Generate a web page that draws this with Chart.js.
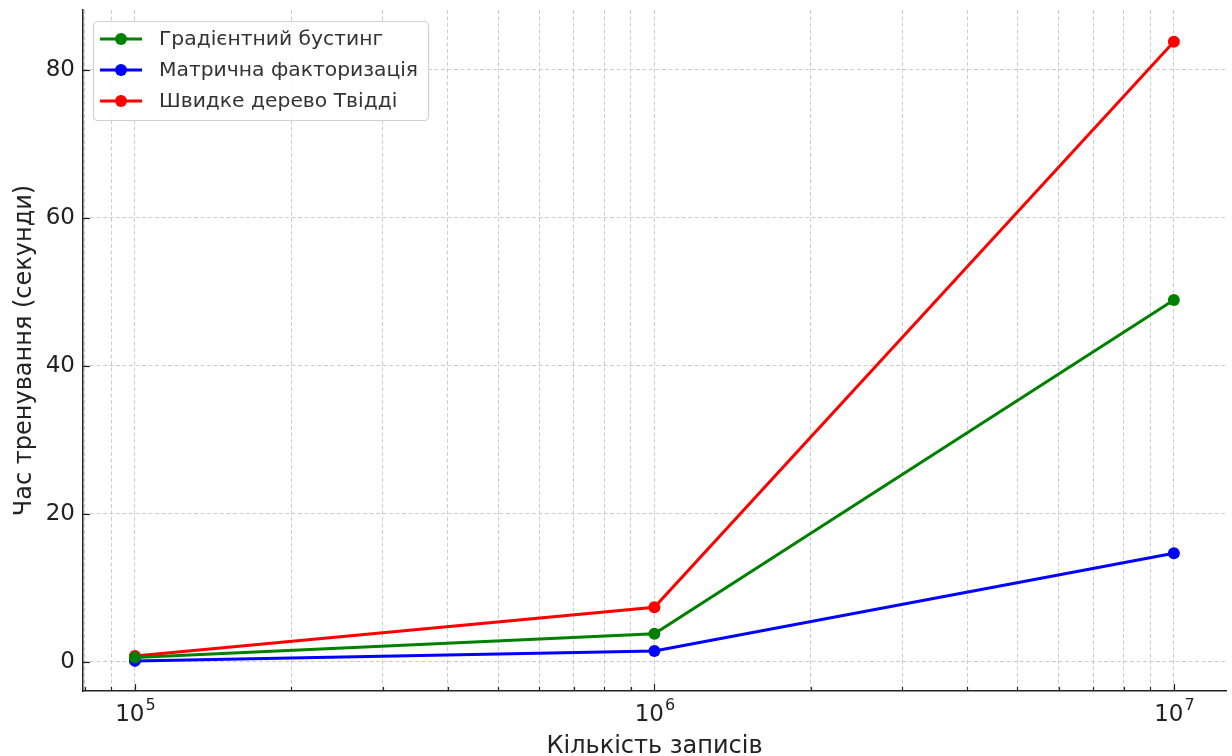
<!DOCTYPE html>
<html>
<head>
<meta charset="utf-8">
<script src="https://cdn.jsdelivr.net/npm/chart.js@4/dist/chart.umd.min.js"></script>
<style>
  html, body { margin: 0; padding: 0; background: #fff; }
  #wrap { width: 1232px; height: 756px; }
</style>
</head>
<body>
<div id="wrap"><canvas id="myChart" width="1232" height="756"></canvas></div>
<script>
// values
const records = [1e5, 1e6, 1e7];
const seriesNames = ["Градієнтний бустинг", "Матрична факторизація", "Швидке дерево Твідді"];
const gradBoost = [0.6, 3.8, 48.9];
const matrixFact = [0.15, 1.5, 14.7];
const tweedie = [0.8, 7.4, 83.8];
const yTicks = [0, 20, 40, 60, 80];
const xMajor = [1e5, 1e6, 1e7];

const colors = ['#008000', '#0000ff', '#ff0000'];
const allSeries = [gradBoost, matrixFact, tweedie];

const FONT = "'DejaVu Sans', sans-serif";

// inward tick marks and 10^n labels, matplotlib style
const inTicks = {
    id: 'inTicks',
    afterDraw(chart) {
        const c = chart.ctx, xs = chart.scales.x, ys = chart.scales.y;
        c.save();
        c.strokeStyle = '#222';
        c.lineWidth = 1.2;
        xs.ticks.forEach(t => {
            const px = Math.round(xs.getPixelForValue(t.value)) + 0.5;
            const major = xMajor.includes(t.value);
            const len = major ? 7 : 4;
            c.beginPath();
            c.moveTo(px, ys.bottom);
            c.lineTo(px, ys.bottom - len);
            c.stroke();
        });
        ys.ticks.forEach(t => {
            const py = Math.round(ys.getPixelForValue(t.value)) + 0.5;
            c.beginPath();
            c.moveTo(xs.left, py);
            c.lineTo(xs.left + 7, py);
            c.stroke();
        });
        // power-of-ten labels with a raised exponent
        c.fillStyle = '#222';
        c.textBaseline = 'alphabetic';
        xMajor.forEach(v => {
            const px = xs.getPixelForValue(v);
            const exp = String(Math.round(Math.log10(v)));
            c.font = "23px " + FONT;
            const wb = c.measureText('10').width;
            c.font = "16px " + FONT;
            const we = c.measureText(exp).width;
            const x0 = px - (wb + we) / 2;
            c.font = "23px " + FONT;
            c.textAlign = 'left';
            c.fillText('10', x0, 721);
            c.font = "16px " + FONT;
            c.fillText(exp, x0 + wb + 1, 710);
        });
        c.restore();
    }
};

// legend box like matplotlib
const boxLegend = {
    id: 'boxLegend',
    afterDraw(chart) {
        const c = chart.ctx;
        const x0 = 93, y0 = 21, w = 335, h = 99;
        c.save();
        c.fillStyle = 'rgba(255,255,255,0.85)';
        c.strokeStyle = '#d0d0d0';
        c.lineWidth = 1.2;
        c.beginPath();
        c.roundRect(x0 + 0.5, y0 + 0.5, w, h, 4);
        c.fill();
        c.stroke();
        c.font = "20.3px " + FONT;
        c.textBaseline = 'middle';
        seriesNames.forEach((name, i) => {
            const yy = 39 + i * 31;
            c.strokeStyle = colors[i];
            c.lineWidth = 3;
            c.beginPath();
            c.moveTo(100, yy);
            c.lineTo(142, yy);
            c.stroke();
            c.fillStyle = colors[i];
            c.beginPath();
            c.arc(121, yy, 6, 0, Math.PI * 2);
            c.fill();
            c.fillStyle = '#333';
            c.fillText(name, 159, yy + 1);
        });
        c.restore();
    }
};

function noPad(scale) {
    scale.paddingTop = 0;
    scale.paddingBottom = 0;
    scale.paddingLeft = 0;
    scale.paddingRight = 0;
}

const ctx = document.getElementById('myChart').getContext('2d');
const myChart = new Chart(ctx, {
    type: 'line',
    data: {
        datasets: allSeries.map((vals, i) => ({
            label: seriesNames[i],
            data: records.map((r, j) => ({x: r, y: vals[j]})),
            borderColor: colors[i],
            backgroundColor: colors[i],
            borderWidth: 3,
            pointRadius: 6,
            pointHoverRadius: 6,
            pointBorderWidth: 0,
            tension: 0
        }))
    },
    options: {
        responsive: false,
        animation: false,
        layout: {padding: {top: 10, right: 6, left: 0, bottom: 0}},
        plugins: {legend: {display: false}, tooltip: {enabled: false}},
        scales: {
            x: {
                type: 'logarithmic',
                min: 79432,
                max: 1.26e7,
                grid: {color: '#cccccc', lineWidth: 1, drawTicks: false},
                border: {display: true, color: '#222', width: 1.5, dash: [4, 2.5]},
                afterBuildTicks(scale) {
                    const t = [];
                    for (let e = 4; e <= 7; e++) {
                        for (let m = 1; m <= 9; m++) {
                            const v = m * Math.pow(10, e);
                            if (v >= scale.min && v <= scale.max) t.push({value: v});
                        }
                    }
                    scale.ticks = t;
                },
                afterFit(scale) { scale.height = 65; noPad(scale); },
                ticks: {
                    autoSkip: false,
                    maxRotation: 0,
                    padding: 8,
                    font: {family: FONT, size: 23},
                    callback() { return ''; }
                },
                title: {
                    display: true,
                    text: 'Кількість записів',
                    color: '#222',
                    font: {family: FONT, size: 24, lineHeight: 0.8},
                    padding: {top: 0, bottom: 0}
                }
            },
            y: {
                min: -3.92,
                max: 88.1,
                grid: {color: '#cccccc', lineWidth: 1, drawTicks: false},
                border: {display: true, color: '#222', width: 1.5, dash: [4, 2.5]},
                afterBuildTicks(scale) {
                    scale.ticks = yTicks.map(v => ({value: v}));
                },
                afterFit(scale) { scale.width = 83; noPad(scale); },
                ticks: {
                    padding: 8,
                    color: '#222',
                    font: {family: FONT, size: 23}
                },
                title: {
                    display: true,
                    text: 'Час тренування (секунди)',
                    color: '#222',
                    font: {family: FONT, size: 24, lineHeight: 1.0},
                    padding: {top: 13, bottom: 0}
                }
            }
        }
    },
    plugins: [inTicks, boxLegend]
});
</script>
</body>
</html>
